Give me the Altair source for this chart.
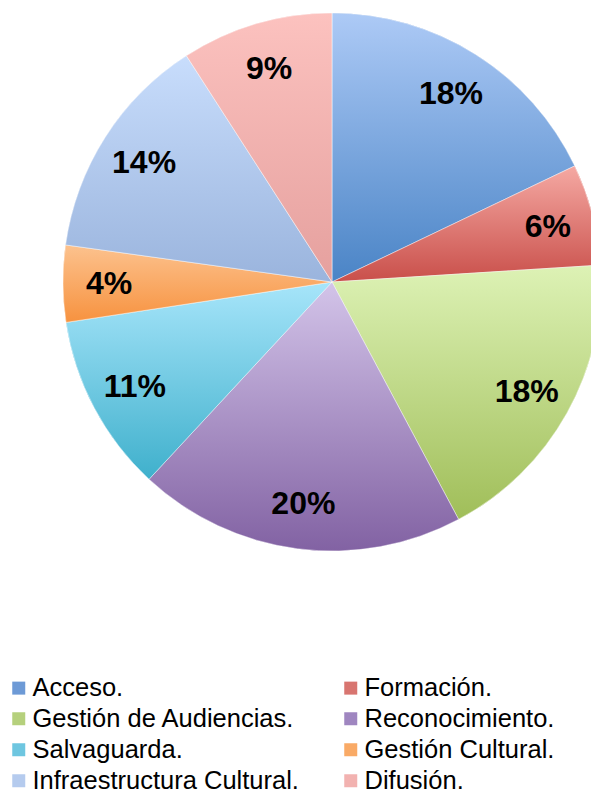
import altair as alt
import pandas as pd

categories = ["Acceso.", "Formación.", "Gestión de Audiencias.", "Reconocimiento.",
              "Salvaguarda.", "Gestión Cultural.", "Infraestructura Cultural.", "Difusión."]
values = [17.9, 6.1, 18.2, 19.7, 10.7, 4.6, 13.7, 9.1]
labels = ["18%", "6%", "18%", "20%", "11%", "4%", "14%", "9%"]
top_colors = ["#adcaf6", "#f5a9a3", "#ddf2b5", "#d3c4e9", "#a7e5fa", "#fcc28e", "#c8ddfc", "#fcc2bf"]
bottom_colors = ["#4a84c6", "#c94f4a", "#a0be59", "#8262a3", "#3fb0cc", "#f7923f", "#9ab4dd", "#e5a09e"]
legend_colors = ["#6d9ad6", "#d87570", "#b5d07c", "#9f86c0", "#6ec6e0", "#f9aa66", "#b5cbee", "#f2b2b0"]

df = pd.DataFrame({"cat": categories, "value": values, "label": labels,
                   "idx": list(range(len(categories)))})

def grad(i):
    return {"gradient": "linear", "x1": 0, "y1": 0, "x2": 0, "y2": 1,
            "stops": [{"offset": 0, "color": top_colors[i]},
                      {"offset": 1, "color": bottom_colors[i]}]}

cx, cy, R = 324, 274, 269

theta = alt.Theta("value:Q", stack=True)
order = alt.Order("idx:Q", sort="ascending")

base = alt.Chart(df).mark_arc(outerRadius=R).encode(
    theta=theta, order=order,
    x=alt.value(cx), y=alt.value(cy),
    color=alt.Color("cat:N", sort=categories,
                    scale=alt.Scale(domain=categories, range=legend_colors),
                    legend=alt.Legend(title=None, orient="none", legendX=-2, legendY=667,
                                      direction="horizontal",
                                      columns=2, symbolType="square", symbolSize=169,
                                      labelFontSize=25.5, labelFont="Liberation Sans",
                                      labelColor="black", columnPadding=39, rowPadding=4,
                                      labelOffset=1, labelLimit=400, symbolStrokeWidth=0,
                                      padding=0)),
)

w = alt.when(alt.datum.cat == categories[0]).then(alt.value(grad(0)))
for i in range(1, len(categories)):
    w = w.when(alt.datum.cat == categories[i]).then(alt.value(grad(i)))
fill = w.otherwise(alt.value("#cccccc"))

overlay = alt.Chart(df).mark_arc(outerRadius=R, stroke="white", strokeWidth=0.6,
                                 strokeOpacity=0.8).encode(
    theta=theta, order=order,
    x=alt.value(cx), y=alt.value(cy),
    fill=fill,
)

text = alt.Chart(df).mark_text(radius=223, font="Liberation Sans", fontSize=32,
                               fontWeight="bold", color="black", baseline="middle",
                               align="center", dy=1).encode(
    theta=theta, order=order,
    x=alt.value(cx), y=alt.value(cy),
    text="label:N",
)

chart = alt.layer(base, overlay, text).properties(
    width=583, height=788, padding=0,
    autosize=alt.AutoSizeParams(type="none")
).configure_view(stroke=None)

chart.save("out.html", embed_options={"renderer": "svg", "actions": False})
